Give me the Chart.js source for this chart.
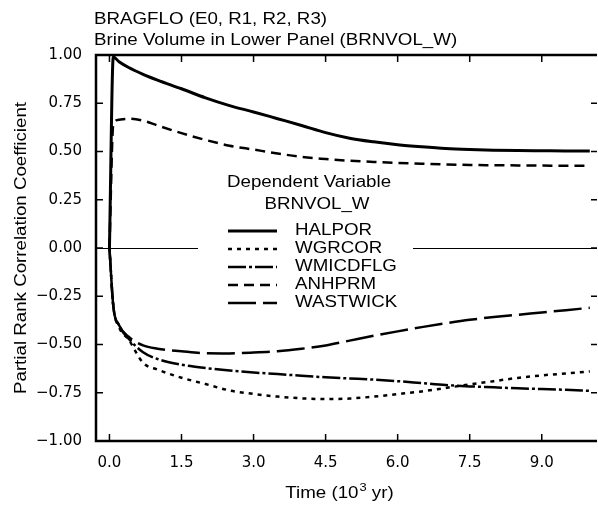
<!DOCTYPE html>
<html>
<head>
<meta charset="utf-8">
<script src="https://cdn.jsdelivr.net/npm/chart.js@4"></script>
<style>
  html, body { margin: 0; padding: 0; background: #fff; }
  #wrap { width: 598px; height: 506px; position: relative; }
</style>
</head>
<body>
<div id="wrap"><canvas id="prcc"></canvas></div>
<script>
// PRCC of BRNVOL_W vs time (10^3 yr)
const times    = [0, 0.08, 0.2, 0.4, 0.7, 1.0, 1.5, 2.0, 2.5, 3.0, 3.5, 4.0, 4.5, 5.0, 5.5, 6.0, 6.5, 7.0, 7.5, 8.0, 8.5, 9.0, 9.5, 10.0];
const halpor   = [0, 0.99, 0.965, 0.935, 0.9, 0.87, 0.825, 0.778, 0.738, 0.705, 0.67, 0.635, 0.598, 0.569, 0.55, 0.535, 0.524, 0.515, 0.51, 0.507, 0.505, 0.504, 0.503, 0.503];
const wgrcor   = [0, -0.3, -0.41, -0.475, -0.595, -0.63, -0.672, -0.705, -0.738, -0.756, -0.77, -0.779, -0.783, -0.78, -0.77, -0.757, -0.743, -0.725, -0.707, -0.69, -0.673, -0.66, -0.65, -0.64];
const wmicdflg = [0, -0.3, -0.4, -0.47, -0.54, -0.575, -0.605, -0.622, -0.635, -0.645, -0.653, -0.662, -0.67, -0.676, -0.682, -0.69, -0.7, -0.71, -0.717, -0.722, -0.727, -0.731, -0.735, -0.74];
const anhprm   = [0, 0.64, 0.665, 0.67, 0.66, 0.635, 0.595, 0.56, 0.53, 0.51, 0.49, 0.472, 0.461, 0.452, 0.446, 0.441, 0.437, 0.433, 0.43, 0.429, 0.428, 0.427, 0.426, 0.426];
const wastwick = [0, -0.3, -0.4, -0.46, -0.505, -0.522, -0.535, -0.545, -0.546, -0.542, -0.535, -0.522, -0.505, -0.48, -0.455, -0.432, -0.41, -0.39, -0.372, -0.358, -0.346, -0.334, -0.322, -0.31];

const seriesNames = ['HALPOR', 'WGRCOR', 'WMICDFLG', 'ANHPRM', 'WASTWICK'];
const xTickVals = [0, 1.5, 3.0, 4.5, 6.0, 7.5, 9.0];
const yTickVals = [-1, -0.75, -0.5, -0.25, 0, 0.25, 0.5, 0.75, 1];

const INK = '#000';
const FONT = '16px "Liberation Sans", Arial, sans-serif';
const SX = 1.17; // scanned original is stretched sideways a bit

function pts(vals) { return times.map((t, i) => ({ x: t, y: vals[i] })); }

function wideText(ctx, txt, x, y, align) {
    const w = ctx.measureText(txt).width * SX;
    const left = align === 'center' ? x - w / 2 : align === 'right' ? x - w : x;
    ctx.save();
    ctx.translate(left, y);
    ctx.scale(SX, 1);
    ctx.textAlign = 'left';
    ctx.fillText(txt, 0, 0);
    ctx.restore();
    return w;
}

const frame = {
    id: 'frame',
    beforeDatasetsDraw(chart) {
        const { ctx, chartArea: a, scales: { x, y } } = chart;
        ctx.save();
        ctx.strokeStyle = INK;
        // zero reference line, broken where the legend sits
        const y0 = Math.round(y.getPixelForValue(0)) + 0.5;
        ctx.lineWidth = 1.2;
        ctx.beginPath();
        ctx.moveTo(a.left, y0); ctx.lineTo(198, y0);
        ctx.moveTo(413, y0); ctx.lineTo(a.right, y0);
        ctx.stroke();
        // frame: left, top, bottom (no right line, only ticks)
        ctx.lineWidth = 2.5;
        ctx.beginPath();
        ctx.moveTo(a.right, a.top); ctx.lineTo(a.left, a.top);
        ctx.lineTo(a.left, a.bottom); ctx.lineTo(a.right, a.bottom);
        ctx.stroke();
        ctx.lineWidth = 1.5;
        ctx.beginPath();
        x.ticks.forEach(t => {
            const px = x.getPixelForValue(t.value);
            ctx.moveTo(px, a.bottom); ctx.lineTo(px, a.bottom - 7);
            ctx.moveTo(px, a.top); ctx.lineTo(px, a.top + 7);
        });
        y.ticks.forEach(t => {
            const py = y.getPixelForValue(t.value);
            ctx.moveTo(a.left, py); ctx.lineTo(a.left + 7, py);
            ctx.moveTo(a.right, py); ctx.lineTo(a.right - 6, py);
        });
        ctx.stroke();
        ctx.restore();
    },
    afterDraw(chart) {
        const { ctx, chartArea: a } = chart;
        ctx.save();
        ctx.fillStyle = INK;
        ctx.font = FONT;
        ctx.textBaseline = 'alphabetic';
        wideText(ctx, 'BRAGFLO (E0, R1, R2, R3)', 94, 24, 'left');
        wideText(ctx, 'Brine Volume in Lower Panel (BRNVOL_W)', 94, 45, 'left');

        // x axis title with superscript
        const p1 = 'Time (10', p2 = '3', p3 = ' yr)';
        ctx.font = FONT;
        const w1 = ctx.measureText(p1).width * SX, w3 = ctx.measureText(p3).width * SX;
        ctx.font = '11px "Liberation Sans", Arial, sans-serif';
        const w2 = ctx.measureText(p2).width * SX;
        let lx = 339 - (w1 + w2 + w3) / 2;
        ctx.font = FONT;
        lx += wideText(ctx, p1, lx, 498, 'left');
        ctx.font = '11px "Liberation Sans", Arial, sans-serif';
        lx += wideText(ctx, p2, lx + 1, 491, 'left') + 1;
        ctx.font = FONT;
        wideText(ctx, p3, lx, 498, 'left');

        // y axis title
        ctx.save();
        ctx.translate(22, (a.top + a.bottom) / 2);
        ctx.rotate(-Math.PI / 2);
        ctx.textBaseline = 'middle';
        wideText(ctx, 'Partial Rank Correlation Coefficient', 0, 0, 'center');
        ctx.restore();

        // legend
        ctx.textBaseline = 'alphabetic';
        wideText(ctx, 'Dependent Variable', 309, 187, 'center');
        wideText(ctx, 'BRNVOL_W', 317, 209, 'center');
        ctx.textBaseline = 'middle';
        chart.data.datasets.forEach((ds, i) => {
            const ly = 231 + i * 18;
            ctx.strokeStyle = INK;
            ctx.lineWidth = ds.borderWidth;
            ctx.setLineDash(ds.borderDash || []);
            ctx.beginPath();
            ctx.moveTo(228, ly); ctx.lineTo(277, ly);
            ctx.stroke();
            ctx.setLineDash([]);
            wideText(ctx, ds.label, 295, ly, 'left');
        });
        ctx.restore();
    }
};

const dashes = [[], [4, 5], [18, 3, 3, 3], [10, 6], [28, 7]];
const widths = [3, 2.5, 2.5, 2.5, 2.5];
const allVals = [halpor, wgrcor, wmicdflg, anhprm, wastwick];

new Chart(document.getElementById('prcc'), {
    type: 'line',
    data: {
        datasets: seriesNames.map((name, i) => ({
            label: name,
            data: pts(allVals[i]),
            borderColor: INK,
            borderWidth: widths[i],
            borderDash: dashes[i],
            borderCapStyle: 'butt',
            cubicInterpolationMode: 'monotone',
            pointRadius: 0,
            fill: false
        }))
    },
    options: {
        responsive: true,
        maintainAspectRatio: false,
        animation: false,
        layout: { padding: { top: 55, right: 1, bottom: 0, left: 0 } },
        plugins: { legend: { display: false }, tooltip: { enabled: false }, title: { display: false } },
        scales: {
            x: {
                type: 'linear', min: -0.28, max: 10.15,
                afterBuildTicks: s => { s.ticks = xTickVals.map(v => ({ value: v })); },
                afterFit: s => { s.height = 65; },
                grid: { display: false, drawTicks: false },
                border: { display: false },
                ticks: { color: INK, padding: 13, maxRotation: 0, autoSkip: false,
                         font: { family: '"DejaVu Sans"', size: 15 },
                         callback: v => v.toFixed(1) }
            },
            y: {
                type: 'linear', min: -1, max: 1,
                afterBuildTicks: s => { s.ticks = yTickVals.map(v => ({ value: v })); },
                afterFit: s => { s.width = 96; },
                grid: { display: false, drawTicks: false },
                border: { display: false },
                ticks: { color: INK, padding: 14, autoSkip: false,
                         font: { family: '"DejaVu Sans"', size: 15 },
                         callback: v => (v < 0 ? '\u2212' : '') + Math.abs(v).toFixed(2) }
            }
        }
    },
    plugins: [frame]
});
</script>
</body>
</html>
